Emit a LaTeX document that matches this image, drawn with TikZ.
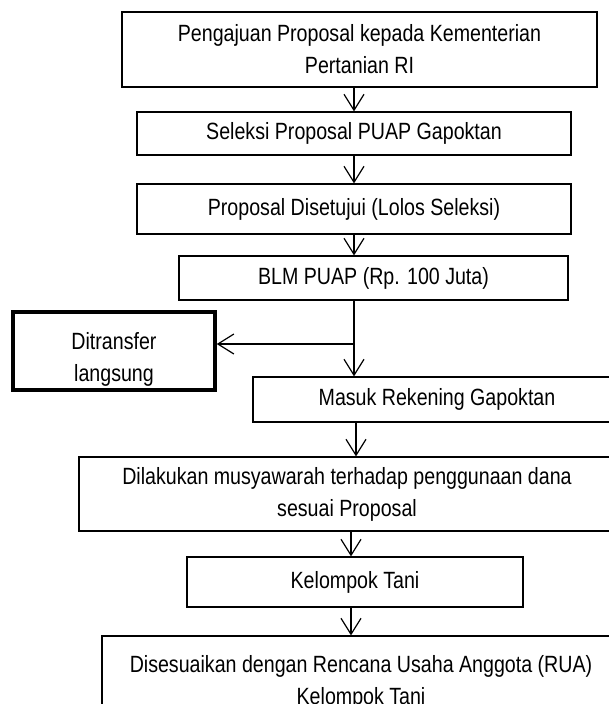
\documentclass[tikz,border=0pt]{standalone}
\usepackage{fontspec}
\setmainfont[FakeStretch=0.835]{Liberation Sans}
\usetikzlibrary{arrows.meta}

\begin{document}
\begin{tikzpicture}[x=1pt,y=-1pt,
        txt/.style={align=center, inner sep=0pt, font=\fontsize{23.5}{32}\selectfont},
        box/.style={txt, draw, line width=1.2pt},
        arr/.style={line width=1.2pt, -{Straight Barb[length=16pt,width=20pt,line width=1.2pt]}}]
        \clip (0,0) rectangle (609,704);

        \node[box, minimum width=475pt, minimum height=75pt] (b1) at (359.5,49.5) {Pengajuan Proposal kepada Kementerian\\Pertanian RI};
        \node[box, minimum width=434pt, minimum height=43pt] (b2) at (354,133.5) {Seleksi Proposal PUAP Gapoktan};
        \node[box, minimum width=434pt, minimum height=50pt] (b3) at (354,209) {Proposal Disetujui (Lolos Seleksi)};
        \node[box, minimum width=389pt, minimum height=44pt] (b4) at (373.5,278) {BLM PUAP (Rp. 100 Juta)};
        \node[box, line width=3.5pt, minimum width=202pt, minimum height=78pt] (dt) at (114,351) {};
        \node[txt] (tdt) at ([yshift=-8pt]dt.center) {Ditransfer\\langsung};
        \node[box, minimum width=368pt, minimum height=45pt] (b5) at (437,399.5) {Masuk Rekening Gapoktan};
        \node[box, minimum width=536pt, minimum height=74pt] (b6) at (347,494) {Dilakukan musyawarah terhadap penggunaan dana\\sesuai Proposal};
        \node[box, minimum width=336pt, minimum height=50pt] (b7) at (355,582) {Kelompok Tani};
        \node[box, minimum width=518pt, minimum height=92pt] (b8) at (361,682) {Disesuaikan dengan Rencana Usaha Anggota (RUA)\\Kelompok Tani};

        \coordinate (j) at (354,344);
        \foreach \a/\b/\x in {b1/b2/354, b2/b3/354, b3/b4/354, b5/b6/356, b6/b7/351, b7/b8/351}
            \draw[arr] (\x,0 |- \a.south) -- (\x,0 |- \b.north);
        \draw[arr] (j |- b4.south) -- (j |- b5.north);
        \draw[arr] (j) -- (j -| dt.east);
    \end{tikzpicture}
\end{document}
